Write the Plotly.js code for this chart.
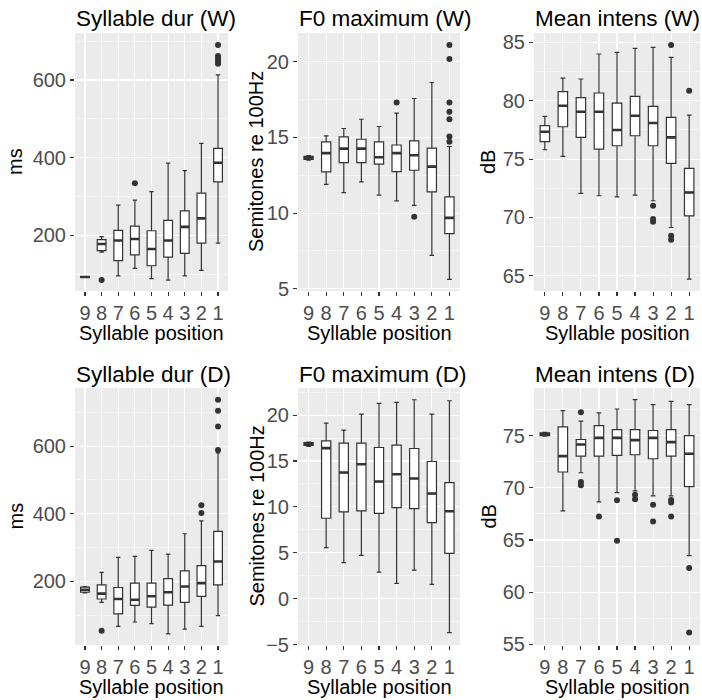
<!DOCTYPE html>
<html>
<head>
<meta charset="utf-8">
<script src="https://cdn.plot.ly/plotly-3.0.1.min.js"></script>
<style>html,body{margin:0;padding:0;background:#fff;}#chart{width:702px;height:700px;}</style>
</head>
<body>
<div id="chart"></div>
<script>
// ---------- data ----------
const positions = ['9','8','7','6','5','4','3','2','1'];

// Syllable dur (W), ms
const durW_q1  = [92, 161, 135, 150, 122, 144, 154, 180, 338];
const durW_med = [93, 178, 187, 191, 165, 187, 222, 244, 387];
const durW_q3  = [94, 189, 213, 224, 212, 239, 263, 309, 424];
const durW_lo  = [92, 157,  96, 115,  89,  85,  96, 110, 180];
const durW_hi  = [94, 197, 278, 291, 313, 386, 367, 437, 613];
const durW_outX = ['8','6','1','1','1','1','1'];
const durW_outY = [85, 334, 690, 662, 655, 648, 642];

// F0 maximum (W), semitones re 100Hz
const f0W_q1  = [13.55, 12.72, 13.34, 13.34, 13.23, 12.74, 12.83, 11.40,  8.64];
const f0W_med = [13.65, 13.96, 14.26, 14.26, 13.69, 13.96, 13.82, 13.07,  9.68];
const f0W_q3  = [13.75, 14.71, 15.04, 14.88, 14.71, 14.50, 14.77, 14.29, 11.07];
const f0W_lo  = [13.50, 11.90, 11.35, 12.06, 11.18, 10.80, 10.51,  7.20,  5.62];
const f0W_hi  = [13.80, 15.10, 15.59, 16.20, 15.72, 16.60, 17.57, 18.63, 14.40];
const f0W_outX = ['4','3','1','1','1','1','1','1','1'];
const f0W_outY = [17.31, 9.76, 21.10, 20.18, 17.31, 16.69, 16.20, 15.06, 14.71];

// Mean intens (W), dB
const intW_q1  = [76.49, 77.77, 76.86, 75.86, 76.14, 77.00, 76.14, 74.63, 70.14];
const intW_med = [77.34, 79.57, 79.06, 79.06, 77.49, 78.71, 78.09, 76.86, 72.14];
const intW_q3  = [77.86, 80.77, 80.26, 80.66, 79.80, 80.37, 79.51, 78.57, 74.20];
const intW_lo  = [75.80, 75.23, 72.06, 71.86, 71.77, 71.91, 71.43, 69.14, 64.71];
const intW_hi  = [78.66, 81.94, 81.86, 84.00, 84.14, 84.49, 84.57, 83.71, 78.77];
const intW_outX = ['3','3','3','2','2','2','1'];
const intW_outY = [71.00, 69.86, 69.63, 84.77, 68.43, 68.09, 80.86];

// Syllable dur (D), ms
const durD_q1  = [168, 148, 104, 129, 124, 130, 138, 156, 190];
const durD_med = [175, 164, 148, 146, 156, 168, 185, 195, 259];
const durD_q3  = [183, 190, 182, 195, 195, 208, 231, 247, 348];
const durD_lo  = [166, 138,  67,  80,  75,  45,  59,  67,  99];
const durD_hi  = [185, 227, 271, 274, 292, 281, 341, 379, 580];
const durD_outX = ['8','2','2','1','1','1','1'];
const durD_outY = [54, 425, 402, 737, 705, 658, 589];

// F0 maximum (D)
const f0D_q1  = [16.70,  8.76,  9.45,  9.56,  9.30,  9.92,  9.81,  8.29,  4.93];
const f0D_med = [16.85, 16.40, 13.74, 14.65, 12.76, 13.56, 13.09, 11.45,  9.52];
const f0D_q3  = [17.00, 17.20, 16.94, 16.94, 16.47, 16.72, 16.36, 14.94, 12.65];
const f0D_lo  = [16.60,  5.55,  3.92,  4.72,  2.90,  1.66,  3.11,  1.55, -3.70];
const f0D_hi  = [17.05, 19.13, 18.36, 20.10, 21.27, 21.38, 21.67, 20.10, 21.56];
const f0D_outX = [];
const f0D_outY = [];

// Mean intens (D)
const intD_q1  = [75.00, 71.51, 73.03, 73.03, 73.10, 73.16, 72.78, 73.03, 70.11];
const intD_med = [75.13, 73.03, 74.14, 74.78, 74.78, 74.56, 74.78, 74.37, 73.25];
const intD_q3  = [75.25, 75.83, 74.62, 75.95, 75.57, 75.57, 75.48, 75.57, 75.00];
const intD_lo  = [74.95, 67.79, 71.44, 68.65, 69.54, 69.70, 69.22, 69.22, 63.51];
const intD_hi  = [75.30, 77.38, 76.37, 77.16, 77.54, 78.43, 77.95, 78.27, 77.95];
const intD_outX = ['7','7','7','6','5','5','4','4','3','3','2','2','2','1','1'];
const intD_outY = [77.22, 70.56, 70.24, 67.25, 68.81, 64.94, 69.32, 68.90, 68.37, 66.78, 68.84, 68.59, 67.25, 62.33, 56.14];

const titles = ['Syllable dur (W)', 'F0 maximum (W)', 'Mean intens (W)',
                'Syllable dur (D)', 'F0 maximum (D)', 'Mean intens (D)'];
const yTitles = ['ms', 'Semitones re 100Hz', 'dB', 'ms', 'Semitones re 100Hz', 'dB'];
const xTitle = 'Syllable position';
const yDticks = [200, 5, 5, 200, 5, 5];
const yRanges = [[57, 721], [4.85, 21.9], [63.7, 85.8], [12, 772], [-5.05, 22.95], [54.95, 79.55]];

// ---------- build ----------
const panels = [
  [durW_q1, durW_med, durW_q3, durW_lo, durW_hi, durW_outX, durW_outY],
  [f0W_q1, f0W_med, f0W_q3, f0W_lo, f0W_hi, f0W_outX, f0W_outY],
  [intW_q1, intW_med, intW_q3, intW_lo, intW_hi, intW_outX, intW_outY],
  [durD_q1, durD_med, durD_q3, durD_lo, durD_hi, durD_outX, durD_outY],
  [f0D_q1, f0D_med, f0D_q3, f0D_lo, f0D_hi, f0D_outX, f0D_outY],
  [intD_q1, intD_med, intD_q3, intD_lo, intD_hi, intD_outX, intD_outY]
];

const W = 702, H = 700;
const colPx = [[75, 228], [298, 460], [534, 700]];
const rowPx = [[33, 291], [388, 645]];
const FONT = 'Liberation Sans, Arial, Helvetica, sans-serif';
const INK = '#333333';

const traces = [];
const layout = {
  width: W, height: H,
  margin: {l: 0, r: 0, t: 0, b: 0},
  paper_bgcolor: '#ffffff',
  plot_bgcolor: '#EBEBEB',
  showlegend: false,
  boxmode: 'overlay',
  boxgap: 0.25,
  font: {family: FONT, color: '#000'},
  annotations: []
};

panels.forEach((p, i) => {
  const [q1, med, q3, lo, hi, ox, oy] = p;
  const n = i + 1;
  const xa = n === 1 ? 'x' : 'x' + n;
  const ya = n === 1 ? 'y' : 'y' + n;
  const col = i % 3, row = Math.floor(i / 3);
  const [xl, xr] = colPx[col];
  const [yt, yb] = rowPx[row];

  traces.push({
    type: 'box', x: positions, q1: q1, median: med, q3: q3,
    lowerfence: lo, upperfence: hi, boxpoints: false,
    fillcolor: '#ffffff', line: {color: INK, width: 1.2},
    xaxis: xa, yaxis: ya, hoverinfo: 'skip'
  });
  // thicker median bar (ggplot fatten)
  traces.push({
    type: 'box', x: positions, q1: med, median: med, q3: med,
    lowerfence: med, upperfence: med, boxpoints: false,
    fillcolor: INK, line: {color: INK, width: 2.6},
    xaxis: xa, yaxis: ya, hoverinfo: 'skip'
  });
  if (ox.length) {
    traces.push({
      type: 'scatter', mode: 'markers', x: ox, y: oy,
      marker: {color: INK, size: 6},
      xaxis: xa, yaxis: ya, hoverinfo: 'skip'
    });
  }

  const dt = yDticks[i];
  layout['xaxis' + (n === 1 ? '' : n)] = {
    domain: [xl / W, xr / W], anchor: ya,
    type: 'category', categoryorder: 'array', categoryarray: positions,
    tickmode: 'array', tickvals: positions, ticktext: positions,
    range: [-0.6, 8.6],
    showgrid: true, gridcolor: '#ffffff', gridwidth: 1.1,
    zeroline: false, showline: false,
    ticks: 'outside', ticklen: 4, tickwidth: 1.1, tickcolor: INK,
    tickfont: {family: FONT, size: 20, color: '#4D4D4D'},
    fixedrange: true
  };
  layout['yaxis' + (n === 1 ? '' : n)] = {
    domain: [1 - yb / H, 1 - yt / H], anchor: xa,
    range: yRanges[i],
    tickmode: 'linear', tick0: 0, dtick: dt,
    showgrid: true, gridcolor: '#ffffff', gridwidth: 1.1,
    minor: {tickmode: 'linear', tick0: dt / 2, dtick: dt, showgrid: true, gridcolor: '#ffffff', gridwidth: 0.5},
    zeroline: false, showline: false,
    ticks: 'outside', ticklen: 4, tickwidth: 1.1, tickcolor: INK,
    tickfont: {family: FONT, size: 20, color: '#4D4D4D'},
    fixedrange: true
  };

  // panel title
  layout.annotations.push({
    xref: 'paper', yref: 'paper', x: (xl - 1) / W, y: 1 - (yt - 14) / H,
    xanchor: 'left', yanchor: 'middle', showarrow: false,
    text: titles[i], font: {family: FONT, size: 22.5, color: '#000'}
  });
  // x axis title
  layout.annotations.push({
    xref: 'paper', yref: 'paper', x: ((xl + xr) / 2) / W, y: 1 - (yb + 42) / H,
    xanchor: 'center', yanchor: 'middle', showarrow: false,
    text: xTitle, font: {family: FONT, size: 20, color: '#000'}
  });
  // y axis title
  const yTitleX = [15, 256, 488][col];
  layout.annotations.push({
    xref: 'paper', yref: 'paper', x: yTitleX / W, y: 1 - ((yt + yb) / 2) / H,
    xanchor: 'center', yanchor: 'middle', showarrow: false, textangle: -90,
    text: yTitles[i], font: {family: FONT, size: 20, color: '#000'}
  });
});

Plotly.newPlot('chart', traces, layout, {displayModeBar: false, staticPlot: true});
</script>
</body>
</html>
